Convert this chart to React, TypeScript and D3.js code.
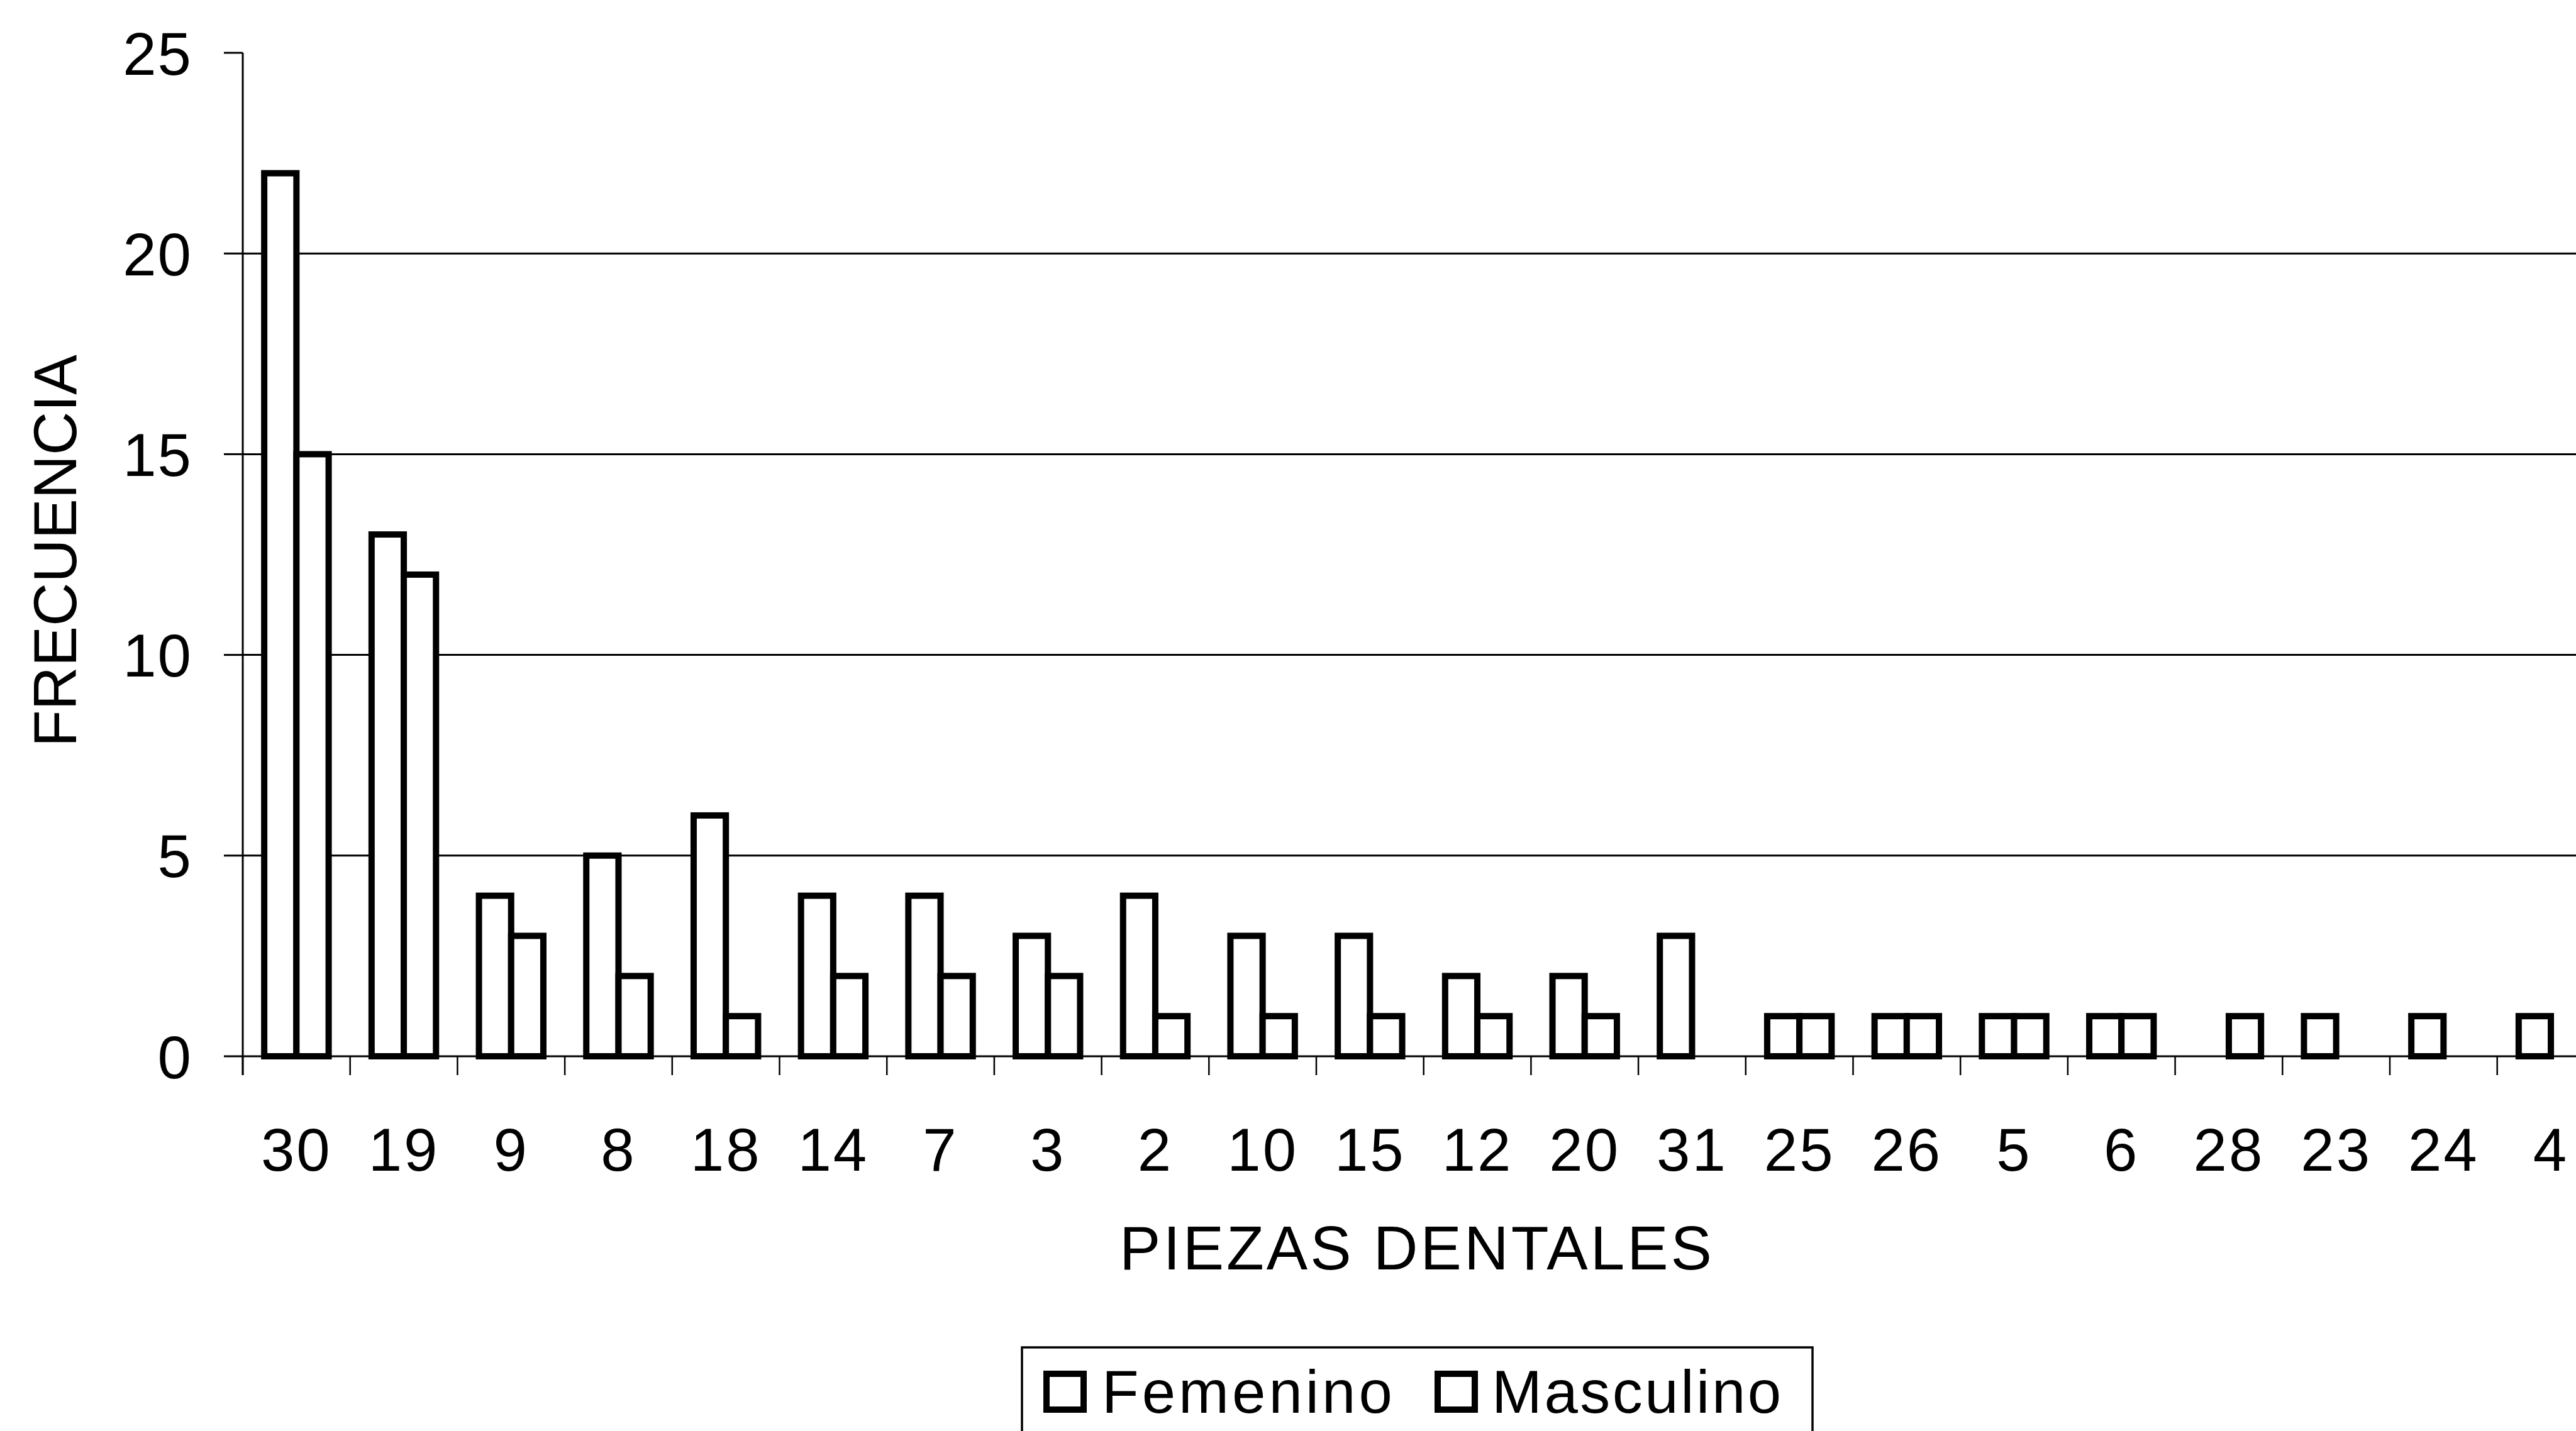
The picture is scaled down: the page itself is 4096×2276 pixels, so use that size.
import React from "react";
import * as d3 from "d3";

// Frecuencia por pieza dental, separada por sexo
const categories = ["30", "19", "9", "8", "18", "14", "7", "3", "2", "10", "15", "12", "20", "31", "25", "26", "5", "6", "28", "23", "24", "4"];
const femenino = [22, 13, 4, 5, 6, 4, 4, 3, 4, 3, 3, 2, 2, 3, 1, 1, 1, 1, 0, 1, 1, 1];
const masculino = [15, 12, 3, 2, 1, 2, 2, 2, 1, 1, 1, 1, 1, 0, 1, 1, 1, 1, 1, 0, 0, 0];
const seriesNames = ["Femenino", "Masculino"];
const yTicks = [0, 5, 10, 15, 20, 25];
const gridTicks = [5, 10, 15, 20];

const W = 4096;
const H = 2276;
const FONT = "'Liberation Sans', Arial, Helvetica, sans-serif";
const FS = 96;

export default function App() {
  const x0 = 386;
  const step = 170.7;
  const x = d3.scaleBand<string>().domain(categories).range([x0, x0 + step * categories.length]).padding(0);
  const groupW = x.bandwidth() * 0.6;
  const xs = d3.scaleBand<string>().domain(seriesNames).range([0, groupW]).padding(0);
  const y = d3.scaleLinear().domain([0, 25]).range([1680, 84]);

  const rows = categories.map((c, i) => ({ c, values: [femenino[i], masculino[i]] }));
  const tickLen = 30;
  const barStroke = 10;

  return (
    <svg
      width={W}
      height={H}
      viewBox={`0 0 ${W} ${H}`}
      style={{ position: "absolute", left: 0, top: 0, display: "block", background: "#fff", overflow: "hidden" }}
    >
      <rect x={0} y={0} width={W} height={H} fill="#fff" />

      {/* horizontal gridlines */}
      {gridTicks.map((t) => (
        <line key={"g" + t} x1={x0} x2={W} y1={y(t)} y2={y(t)} stroke="#000" strokeWidth={3} />
      ))}

      {/* bars */}
      {rows.map((r) => (
        <g key={r.c} transform={`translate(${(x(r.c) as number) + (x.bandwidth() - groupW) / 2},0)`}>
          {r.values.map((v, j) =>
            v > 0 ? (
              <rect
                key={j}
                x={xs(seriesNames[j]) as number}
                y={y(v)}
                width={xs.bandwidth()}
                height={y(0) - y(v)}
                fill="#fff"
                stroke="#000"
                strokeWidth={barStroke}
              />
            ) : null
          )}
        </g>
      ))}

      {/* y axis */}
      <line x1={x0} x2={x0} y1={y(25)} y2={y(0) + tickLen} stroke="#000" strokeWidth={3} />
      {yTicks.map((t) => (
        <g key={"y" + t}>
          <line x1={x0 - tickLen} x2={x0} y1={y(t)} y2={y(t)} stroke="#000" strokeWidth={3} />
          <text x={306} y={y(t) + FS * 0.36} textAnchor="end" fontFamily={FONT} fontSize={FS} letterSpacing={2} fill="#000">
            {t}
          </text>
        </g>
      ))}

      {/* x axis */}
      <line x1={x0} x2={W} y1={y(0)} y2={y(0)} stroke="#000" strokeWidth={3} />
      {categories.map((c) => (
        <line
          key={"xt" + c}
          x1={x(c) as number}
          x2={x(c) as number}
          y1={y(0)}
          y2={y(0) + tickLen}
          stroke="#000"
          strokeWidth={2.5}
        />
      ))}
      {categories.map((c) => (
        <text
          key={"xl" + c}
          x={(x(c) as number) + x.bandwidth() / 2}
          y={1862}
          textAnchor="middle"
          fontFamily={FONT}
          fontSize={FS}
          letterSpacing={3}
          fill="#000"
        >
          {c}
        </text>
      ))}

      {/* axis titles */}
      <text x={2253} y={2019} textAnchor="middle" fontFamily={FONT} fontSize={98} letterSpacing={4} fill="#000">
        PIEZAS DENTALES
      </text>
      <text
        transform={`translate(121,876) rotate(-90)`}
        textAnchor="middle"
        fontFamily={FONT}
        fontSize={FS}
        fill="#000"
      >
        FRECUENCIA
      </text>

      {/* legend */}
      <rect x={1625} y={2143} width={1257} height={200} fill="#fff" stroke="#000" strokeWidth={3.5} />
      <rect x={1664} y={2185} width={59} height={57} fill="#fff" stroke="#000" strokeWidth={10} />
      <text x={1752} y={2247} fontFamily={FONT} fontSize={FS} letterSpacing={5} fill="#000">
        {seriesNames[0]}
      </text>
      <rect x={2286} y={2185} width={59} height={57} fill="#fff" stroke="#000" strokeWidth={10} />
      <text x={2372} y={2247} fontFamily={FONT} fontSize={FS} letterSpacing={3.5} fill="#000">
        {seriesNames[1]}
      </text>
    </svg>
  );
}
